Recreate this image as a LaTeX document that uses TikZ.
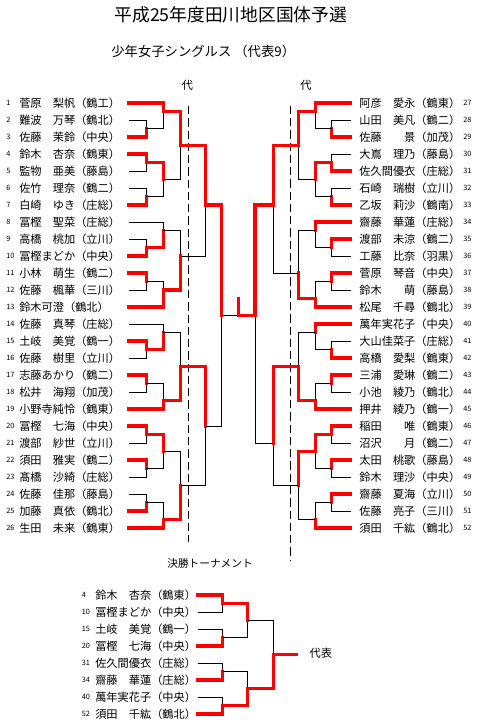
\documentclass[tikz,border=0pt]{standalone}
\usepackage{fontspec}
\setmainfont{Noto Sans CJK JP}
\usepackage{tikz}

% one match: point, loser line (black), winner line (red)
\newcommand{\bout}[5]{%
  \coordinate (#1) at (#2,#3);
  \draw[lose] (#5) -| (#1);
  \draw[win] (#4) -| (#1);
}

\begin{document}
\begin{tikzpicture}[
  x=0.75pt, y=-0.75pt,
  every node/.style={font=\fontsize{8.4}{10}\selectfont},
  lname/.style={anchor=west, inner xsep=0pt, text width=82pt, align=left},
  rname/.style={anchor=east, inner xsep=0pt, text width=82pt, align=right},
  fname/.style={anchor=west, inner xsep=0pt, text width=76.5pt, align=left},
  seed/.style={anchor=west, inner sep=0pt, font=\fontsize{5.5}{6}\selectfont},
  lose/.style={draw=black, line width=0.7pt},
  win/.style={draw=red, line width=2.5pt, line cap=rect},
  cutline/.style={draw=black, line width=0.7pt, dash pattern=on 6.2pt off 3pt},
]
  \useasboundingbox (0,0) rectangle (479,728);

  % Headings
  \node[font=\fontsize{13.3}{15}\selectfont] (title) at (230.8,15) {平成25年度田川地区国体予選};
  \node[font=\fontsize{10}{12}\selectfont, anchor=west] (sub) at (106.7,51.7) {少年女子シングルス （代表9）};
  \node (dai1) at (187.5,85.8) {代};
  \node (dai2) at (306,85.8) {代};

  % Left players
  \node[seed] (s1) at (6,103) {1};   \node[lname] (n1) at (19,103) {菅原　梨帆（鶴工）};
  \node[seed] (s2) at (6,120) {2};   \node[lname] (n2) at (19,120) {難波　万琴（鶴北）};
  \node[seed] (s3) at (6,137) {3};   \node[lname] (n3) at (19,137) {佐藤　茉鈴（中央）};
  \node[seed] (s4) at (6,154) {4};   \node[lname] (n4) at (19,154) {鈴木　杏奈（鶴東）};
  \node[seed] (s5) at (6,171) {5};   \node[lname] (n5) at (19,171) {監物　亜美（藤島）};
  \node[seed] (s6) at (6,188) {6};   \node[lname] (n6) at (19,188) {佐竹　理奈（鶴二）};
  \node[seed] (s7) at (6,205) {7};   \node[lname] (n7) at (19,205) {白崎　ゆき（庄総）};
  \node[seed] (s8) at (6,222) {8};   \node[lname] (n8) at (19,222) {冨樫　聖菜（庄総）};
  \node[seed] (s9) at (6,239) {9};   \node[lname] (n9) at (19,239) {高橋　桃加（立川）};
  \node[seed] (s10) at (6,256) {10}; \node[lname] (n10) at (19,256) {冨樫まどか（中央）};
  \node[seed] (s11) at (6,273) {11}; \node[lname] (n11) at (19,273) {小林　萌生（鶴二）};
  \node[seed] (s12) at (6,290) {12}; \node[lname] (n12) at (19,290) {佐藤　楓華（三川）};
  \node[seed] (s13) at (6,307) {13}; \node[lname] (n13) at (19,307) {鈴木可澄（鶴北）};
  \node[seed] (s14) at (6,324) {14}; \node[lname] (n14) at (19,324) {佐藤　真琴（庄総）};
  \node[seed] (s15) at (6,341) {15}; \node[lname] (n15) at (19,341) {土岐　美覚（鶴一）};
  \node[seed] (s16) at (6,358) {16}; \node[lname] (n16) at (19,358) {佐藤　樹里（立川）};
  \node[seed] (s17) at (6,375) {17}; \node[lname] (n17) at (19,375) {志藤あかり（鶴二）};
  \node[seed] (s18) at (6,392) {18}; \node[lname] (n18) at (19,392) {松井　海翔（加茂）};
  \node[seed] (s19) at (6,409) {19}; \node[lname] (n19) at (19,409) {小野寺純怜（鶴東）};
  \node[seed] (s20) at (6,426) {20}; \node[lname] (n20) at (19,426) {冨樫　七海（中央）};
  \node[seed] (s21) at (6,443) {21}; \node[lname] (n21) at (19,443) {渡部　紗世（立川）};
  \node[seed] (s22) at (6,460) {22}; \node[lname] (n22) at (19,460) {須田　雅実（鶴二）};
  \node[seed] (s23) at (6,477) {23}; \node[lname] (n23) at (19,477) {髙橋　沙綺（庄総）};
  \node[seed] (s24) at (6,494) {24}; \node[lname] (n24) at (19,494) {佐藤　佳那（藤島）};
  \node[seed] (s25) at (6,511) {25}; \node[lname] (n25) at (19,511) {加藤　真依（鶴北）};
  \node[seed] (s26) at (6,528) {26}; \node[lname] (n26) at (19,528) {生田　未来（鶴東）};

  % Right players
  \node[rname] (r27) at (460.5,103) {阿彦　愛永（鶴東）}; \node[seed] (s27) at (463,103) {27};
  \node[rname] (r28) at (460.5,120) {山田　美凡（鶴二）}; \node[seed] (s28) at (463,120) {28};
  \node[rname] (r29) at (460.5,137) {佐藤　　景（加茂）}; \node[seed] (s29) at (463,137) {29};
  \node[rname] (r30) at (460.5,154) {大嶌　理乃（藤島）}; \node[seed] (s30) at (463,154) {30};
  \node[rname] (r31) at (460.5,171) {佐久間優衣（庄総）}; \node[seed] (s31) at (463,171) {31};
  \node[rname] (r32) at (460.5,188) {石崎　瑞樹（立川）}; \node[seed] (s32) at (463,188) {32};
  \node[rname] (r33) at (460.5,205) {乙坂　莉沙（鶴南）}; \node[seed] (s33) at (463,205) {33};
  \node[rname] (r34) at (460.5,222) {齋藤　華蓮（庄総）}; \node[seed] (s34) at (463,222) {34};
  \node[rname] (r35) at (460.5,239) {渡部　未涼（鶴二）}; \node[seed] (s35) at (463,239) {35};
  \node[rname] (r36) at (460.5,256) {工藤　比奈（羽黒）}; \node[seed] (s36) at (463,256) {36};
  \node[rname] (r37) at (460.5,273) {菅原　琴音（中央）}; \node[seed] (s37) at (463,273) {37};
  \node[rname] (r38) at (460.5,290) {鈴木　　萌（藤島）}; \node[seed] (s38) at (463,290) {38};
  \node[rname] (r39) at (460.5,307) {松尾　千尋（鶴北）}; \node[seed] (s39) at (463,307) {39};
  \node[rname] (r40) at (460.5,324) {萬年実花子（中央）}; \node[seed] (s40) at (463,324) {40};
  \node[rname] (r41) at (460.5,341) {大山佳菜子（庄総）}; \node[seed] (s41) at (463,341) {41};
  \node[rname] (r42) at (460.5,358) {高橋　愛梨（鶴東）}; \node[seed] (s42) at (463,358) {42};
  \node[rname] (r43) at (460.5,375) {三浦　愛琳（鶴二）}; \node[seed] (s43) at (463,375) {43};
  \node[rname] (r44) at (460.5,392) {小池　綾乃（鶴北）}; \node[seed] (s44) at (463,392) {44};
  \node[rname] (r45) at (460.5,409) {押井　綾乃（鶴一）}; \node[seed] (s45) at (463,409) {45};
  \node[rname] (r46) at (460.5,426) {稲田　　唯（鶴東）}; \node[seed] (s46) at (463,426) {46};
  \node[rname] (r47) at (460.5,443) {沼沢　　月（鶴二）}; \node[seed] (s47) at (463,443) {47};
  \node[rname] (r48) at (460.5,460) {太田　桃歌（藤島）}; \node[seed] (s48) at (463,460) {48};
  \node[rname] (r49) at (460.5,477) {鈴木　理沙（中央）}; \node[seed] (s49) at (463,477) {49};
  \node[rname] (r50) at (460.5,494) {齋藤　夏海（立川）}; \node[seed] (s50) at (463,494) {50};
  \node[rname] (r51) at (460.5,511) {佐藤　亮子（三川）}; \node[seed] (s51) at (463,511) {51};
  \node[rname] (r52) at (460.5,528) {須田　千紘（鶴北）}; \node[seed] (s52) at (463,528) {52};

  % Cut lines for the representatives
  \draw[cutline] (188.3,106) -- (188.3,542);
  \draw[cutline] (290.7,105.7) -- (290.7,561);

  % Left bracket
  \bout{A1}{146.3}{128.5}{n3.east}{n2.east}
  \bout{A2}{163.3}{111.5}{n1.east}{A1}
  \bout{B1}{146.3}{162.5}{n4.east}{n5.east}
  \bout{B2}{146.3}{196.5}{n7.east}{n6.east}
  \bout{B3}{163.3}{179.5}{B1}{B2}
  \bout{C}{180.7}{145.5}{A2}{B3}
  \bout{D1}{146.3}{247.5}{n10.east}{n9.east}
  \bout{D2}{163.3}{230.5}{D1}{n8.east}
  \bout{E1}{146.3}{281.5}{n11.east}{n12.east}
  \bout{E2}{163.3}{290}{n13.east}{E1}
  \bout{F}{180.7}{256}{E2}{D2}
  \bout{G}{205.7}{205}{C}{F}
  \bout{H1}{146.3}{349.5}{n15.east}{n16.east}
  \bout{H2}{163.3}{332.5}{H1}{n14.east}
  \bout{I1}{146.3}{383.5}{n17.east}{n18.east}
  \bout{I2}{163.3}{400.5}{n19.east}{I1}
  \bout{J}{180.7}{366.5}{I2}{H2}
  \bout{K1}{146.3}{434.5}{n20.east}{n21.east}
  \bout{K2}{146.3}{468.5}{n22.east}{n23.east}
  \bout{K3}{163.3}{451.5}{K1}{K2}
  \bout{L1}{146.3}{502.5}{n25.east}{n24.east}
  \bout{L2}{163.3}{519.5}{n26.east}{L1}
  \bout{M}{180.7}{485.5}{L2}{K3}
  \bout{N}{205.7}{426}{J}{M}
  \bout{O}{221.7}{315.5}{G}{N}

  % Right bracket
  \bout{RA1}{331.7}{128.5}{r29.west}{r28.west}
  \bout{RA2}{315.7}{111.5}{r27.west}{RA1}
  \bout{RB1}{331.7}{162.5}{r31.west}{r30.west}
  \bout{RB2}{331.7}{196.5}{r33.west}{r32.west}
  \bout{RB3}{315.7}{179.5}{RB1}{RB2}
  \bout{RC}{298.3}{145.5}{RA2}{RB3}
  \bout{RD1}{331.7}{247.5}{r35.west}{r36.west}
  \bout{RD2}{315.7}{230.5}{r34.west}{RD1}
  \bout{RE1}{331.7}{281.5}{r37.west}{r38.west}
  \bout{RE2}{315.7}{298.5}{r39.west}{RE1}
  \bout{RF}{298.3}{273}{RE2}{RD2}
  \bout{RG}{273.3}{205}{RC}{RF}
  \bout{RH1}{331.7}{349.5}{r42.west}{r41.west}
  \bout{RH2}{315.7}{332.5}{r40.west}{RH1}
  \bout{RI1}{331.7}{383.5}{r43.west}{r44.west}
  \bout{RI2}{315.7}{400.5}{r45.west}{RI1}
  \bout{RJ}{298.3}{366.5}{RI2}{RH2}
  \bout{RK1}{331.7}{434.5}{r46.west}{r47.west}
  \bout{RK2}{331.7}{468.5}{r48.west}{r49.west}
  \bout{RK3}{315.7}{451.5}{RK1}{RK2}
  \bout{RL1}{331.7}{502.5}{r50.west}{r51.west}
  \bout{RL2}{315.7}{519.5}{r52.west}{RL1}
  \bout{RM}{298.3}{485.5}{RK3}{RL2}
  \bout{RN}{273.3}{443}{RJ}{RM}
  \bout{RO}{255}{315.5}{RG}{RN}

  % Final
  \bout{FIN}{238.3}{298.5}{RO}{O}

  % Final tournament
  \node[font=\fontsize{8}{10}\selectfont] (kessho) at (210,563.3) {決勝トーナメント};
  \node[seed] (fs4) at (81.5,595) {4};   \node[fname] (f4) at (95,595) {鈴木　杏奈（鶴東）};
  \node[seed] (fs10) at (81.5,612) {10}; \node[fname] (f10) at (95,612) {冨樫まどか（中央）};
  \node[seed] (fs15) at (81.5,629) {15}; \node[fname] (f15) at (95,629) {土岐　美覚（鶴一）};
  \node[seed] (fs20) at (81.5,646) {20}; \node[fname] (f20) at (95,646) {冨樫　七海（中央）};
  \node[seed] (fs31) at (81.5,663) {31}; \node[fname] (f31) at (95,663) {佐久間優衣（庄総）};
  \node[seed] (fs34) at (81.5,680) {34}; \node[fname] (f34) at (95,680) {齋藤　華蓮（庄総）};
  \node[seed] (fs40) at (81.5,697) {40}; \node[fname] (f40) at (95,697) {萬年実花子（中央）};
  \node[seed] (fs52) at (81.5,714) {52}; \node[fname] (f52) at (95,714) {須田　千紘（鶴北）};

  \bout{FA1}{222.7}{603.5}{f4.east}{f10.east}
  \bout{FA2}{222.7}{637.5}{f20.east}{f15.east}
  \bout{FA3}{222.7}{671.5}{f34.east}{f31.east}
  \bout{FA4}{222.7}{705.5}{f52.east}{f40.east}
  \bout{FB1}{247.3}{620.5}{FA1}{FA2}
  \bout{FB2}{247.3}{688.5}{FA4}{FA3}
  \bout{FC}{273.3}{654.5}{FB2}{FB1}
  \coordinate (FCend) at (296,654.5);
  \draw[win] (FC) -- (FCend);
  \node[anchor=west] (rep) at (305,653.3) {代表};

\end{tikzpicture}
\end{document}
